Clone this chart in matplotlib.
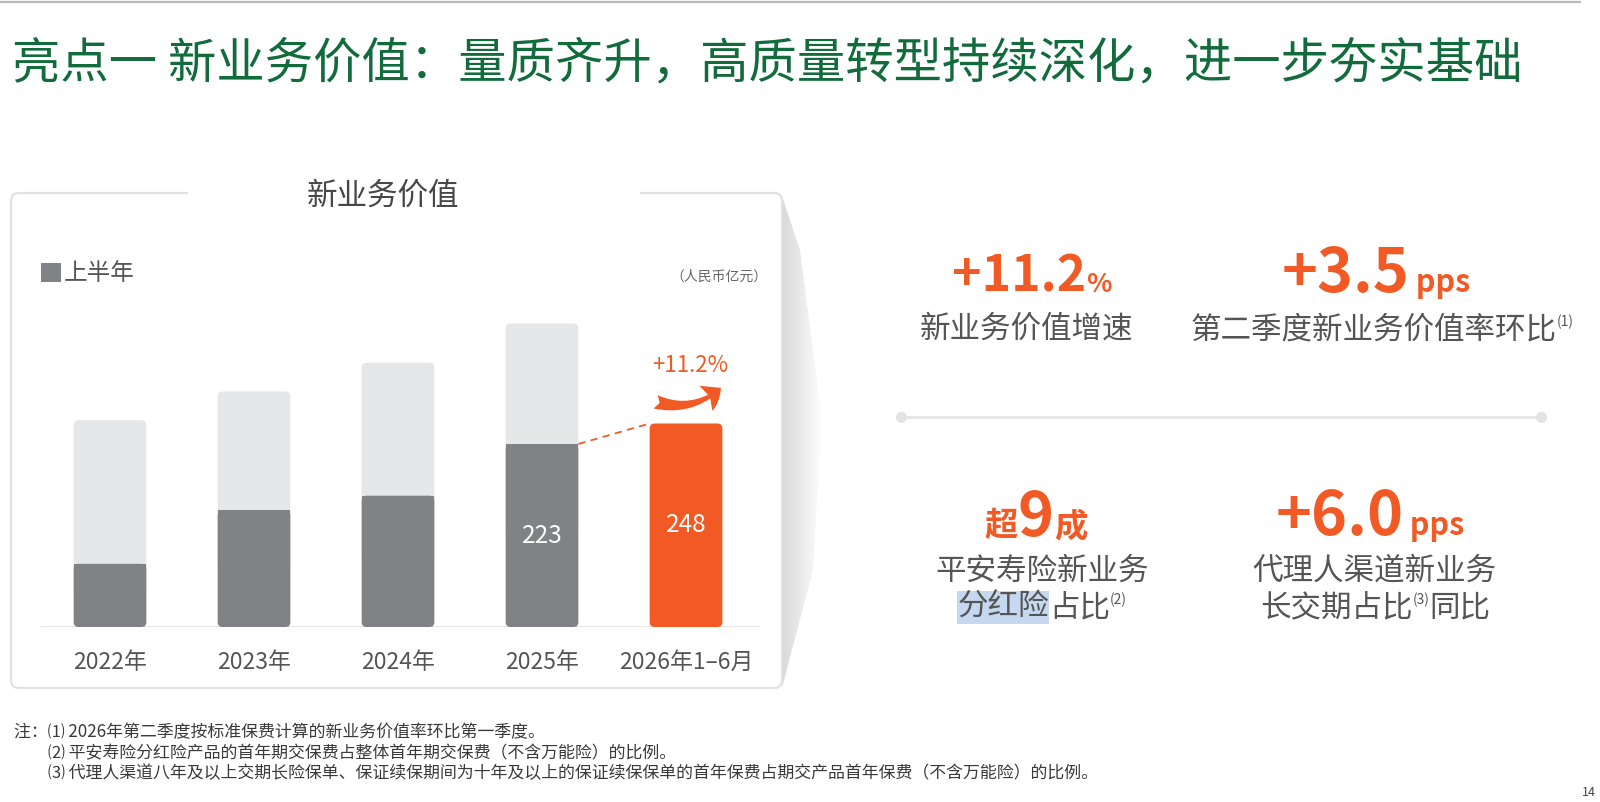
import matplotlib.pyplot as plt
from matplotlib.patches import FancyBboxPatch, Rectangle, Polygon, FancyArrowPatch
import numpy as np

plt.rcParams['font.family'] = ['Noto Sans CJK SC', 'DejaVu Sans']

W, H = 1600, 802

# chart data
years = ['2022年', '2023年', '2024年', '2025年', '2026年1–6月']
h1_values = [77, 142, 160, 223, 248]
full_year_values = [252, 287, 322, 370]
value_labels = ['', '', '', '223', '248']
growth_label = '+11.2%'

title = '亮点一 新业务价值：量质齐升，高质量转型持续深化，进一步夯实基础'
panel_title = '新业务价值'
legend_label = '上半年'
unit_label = '（人民币亿元）'

kpi_growth = ('+11.2', '%', '新业务价值增速')
kpi_margin = ('+3.5', 'pps', '第二季度新业务价值率环比', '(1)')
kpi_share = ('超', '9', '成', '平安寿险新业务', '分红险', '占比', '(2)')
kpi_long = ('+6.0', 'pps', '代理人渠道新业务', '长交期占比', '(3)', '同比')

footnotes = [
    '注：⑴ 2026年第二季度按标准保费计算的新业务价值率环比第一季度。',
    '⑵ 平安寿险分红险产品的首年期交保费占整体首年期交保费（不含万能险）的比例。',
    '⑶ 代理人渠道八年及以上交期长险保单、保证续保期间为十年及以上的保证续保保单的首年保费占期交产品首年保费（不含万能险）的比例。',
]
page_no = '14'

GREEN = '#116b3b'
ORANGE = '#f15a24'
DARK = '#818285'
LIGHT = '#e6e7e8'
TXT = '#555555'

fig = plt.figure(figsize=(W / 100, H / 100), dpi=100)
fig.patch.set_facecolor('white')

# overlay in pixel coordinates for the page decoration and text
ov = fig.add_axes([0, 0, 1, 1])
ov.set_xlim(0, W)
ov.set_ylim(H, 0)
ov.axis('off')

ov.plot([0, 1580], [1.5, 1.5], color='#b8b8b8', lw=1.6)
ov.text(12, 64, title, fontsize=34.8, color=GREEN, ha='left', va='center')

# panel with fold shadow
shadow = Polygon([(782, 196), (800, 250), (822, 420), (813, 570), (782, 688)],
                 closed=True, fc='none', ec='none')
ov.add_patch(shadow)
grad = np.linspace(0.85, 1.0, 60)
grad = np.dstack([grad, grad, grad]).reshape(1, 60, 3)
im = ov.imshow(grad, extent=[782, 824, 688, 192], aspect='auto', zorder=0.5)
im.set_clip_path(shadow)

panel = FancyBboxPatch((11, 193), 771, 495, boxstyle='round,pad=0,rounding_size=8',
                       fc='white', ec='#e2e2e2', lw=1.6, zorder=1)
ov.add_patch(panel)
ov.add_patch(Rectangle((188, 186), 452, 14, fc='white', ec='none', zorder=1.5))
ov.text(383, 196, panel_title, fontsize=22, color='#474747', ha='center', va='center', zorder=2)

ov.add_patch(Rectangle((41, 263), 20, 19, fc=DARK, ec='none', zorder=2))
ov.text(64, 273, legend_label, fontsize=17, color=TXT, ha='left', va='center', zorder=2)
ov.text(768, 277, unit_label, fontsize=10, color='#666666', ha='right', va='center',
        style='italic', zorder=2)

ov.set_xlim(0, W)
ov.set_ylim(H, 0)

# bar chart axes
px_left, px_right, px_base, px_top = 41, 760, 627, 300
ax = fig.add_axes([px_left / W, (H - px_base) / H, (px_right - px_left) / W,
                   (px_base - px_top) / H])
ax.patch.set_alpha(0)
ax.set_zorder(3)
step = 144.0
ax.set_xlim(-(110 - px_left) / step, 4 + (px_right - 686) / step)
ppu = 0.8206
ax.set_ylim(0, (px_base - px_top) / ppu)
for s in ax.spines.values():
    s.set_visible(False)
ax.set_yticks([])

bw = 72.7 / step
r = 5 / step
asp = (1 / ppu) * step

for i, v in enumerate(full_year_values):
    lo = h1_values[i] * 0.5
    ax.add_patch(FancyBboxPatch((i - bw / 2, lo), bw, v - lo,
                                boxstyle=f'round,pad=0,rounding_size={r}',
                                mutation_aspect=asp, fc=LIGHT, ec='none'))
for i, v in enumerate(h1_values):
    col = ORANGE if i == len(h1_values) - 1 else DARK
    ax.add_patch(FancyBboxPatch((i - bw / 2, 0), bw, v,
                                boxstyle=f'round,pad=0,rounding_size={r}',
                                mutation_aspect=asp, fc=col, ec='none'))
    if i < len(h1_values) - 1:
        ax.add_patch(Rectangle((i - bw / 2, v * 0.5), bw, v * 0.5, fc=col, ec='none'))
    if value_labels[i]:
        ax.text(i, v / 2, value_labels[i], color='white', fontsize=17.5,
                ha='center', va='center')

ax.axhline(0, color='#e4e4e4', lw=1.3, zorder=0)
ax.plot([3 + bw / 2, 4 - bw / 2], [h1_values[3], h1_values[4]], color=ORANGE,
        lw=1.3, ls=(0, (4, 3)))
ax.set_xticks(range(len(years)))
ax.set_xticklabels(years, fontsize=16.5, color=TXT)
ax.tick_params(axis='x', length=0, pad=17)

# growth annotation
ov.text(690, 366, growth_label, fontsize=16, color=ORANGE, ha='center', va='center', zorder=4)
ov.add_patch(FancyArrowPatch((653, 401), (723, 386),
                             arrowstyle='fancy,head_length=0.55,head_width=0.85,tail_width=0.42',
                             connectionstyle='arc3,rad=0.3', mutation_scale=24,
                             color=ORANGE, lw=0, zorder=4))

# key figures on the right
renderer = fig.canvas.get_renderer()


def draw_run(xc, y, pieces):
    arts = []
    for s, kw, dy in pieces:
        arts.append(ov.text(0, y + dy, s, ha='left', va='baseline', **kw))
    widths = [a.get_window_extent(renderer).width for a in arts]
    x0 = xc - sum(widths) / 2
    for a, w in zip(arts, widths):
        a.set_x(x0)
        x0 += w
    return arts


big = dict(fontsize=44, color=ORANGE, fontweight='bold')
unit = dict(fontsize=22, color=ORANGE, fontweight='bold')
lab = dict(fontsize=22, color=TXT)
sup = dict(fontsize=10, color=TXT)

draw_run(1032, 292, [(kpi_growth[0], dict(big, fontsize=36), 0),
                     (kpi_growth[1], dict(fontsize=19, color=ORANGE, fontweight='bold'), 0)])
draw_run(1026, 338, [(kpi_growth[2], lab, 0)])

draw_run(1376, 292, [(kpi_margin[0], big, 0), (' ' + kpi_margin[1], unit, 0)])
draw_run(1382, 338, [(kpi_margin[2], lab, 0), (kpi_margin[3], sup, -12)])

ov.plot([901, 1541], [417, 417], color='#e6e6e6', lw=2)
ov.plot([901, 1541], [417, 417], 'o', ms=8, color='#e3e3e3', mec='none')

draw_run(1036, 536, [(kpi_share[0], dict(fontsize=24, color=ORANGE, fontweight='bold'), 0),
                     (kpi_share[1], big, 0),
                     (kpi_share[2], dict(fontsize=24, color=ORANGE, fontweight='bold'), 0)])
draw_run(1042, 580, [(kpi_share[3], lab, 0)])
draw_run(1042, 616, [(kpi_share[4], dict(lab, bbox=dict(boxstyle='square,pad=0.02',
                                                         fc='#c6d8ef', ec='none')), 0),
                     (kpi_share[5], lab, 0), (kpi_share[6], sup, -12)])

draw_run(1370, 535, [(kpi_long[0], big, 0), (' ' + kpi_long[1], unit, 0)])
draw_run(1374, 580, [(kpi_long[2], lab, 0)])
draw_run(1375, 616, [(kpi_long[3], lab, 0), (kpi_long[4], sup, -12), (kpi_long[5], lab, 0)])

# footnotes
ov.text(14, 732, footnotes[0], fontsize=12.2, color='#3a3a3a', ha='left', va='center')
ov.text(48, 753, footnotes[1], fontsize=12.2, color='#3a3a3a', ha='left', va='center')
ov.text(48, 773, footnotes[2], fontsize=12.2, color='#3a3a3a', ha='left', va='center')
ov.text(1582, 786, page_no, fontsize=9, color='#444444', ha='left', va='top')

fig.savefig('out.png', dpi=100, facecolor='white')
